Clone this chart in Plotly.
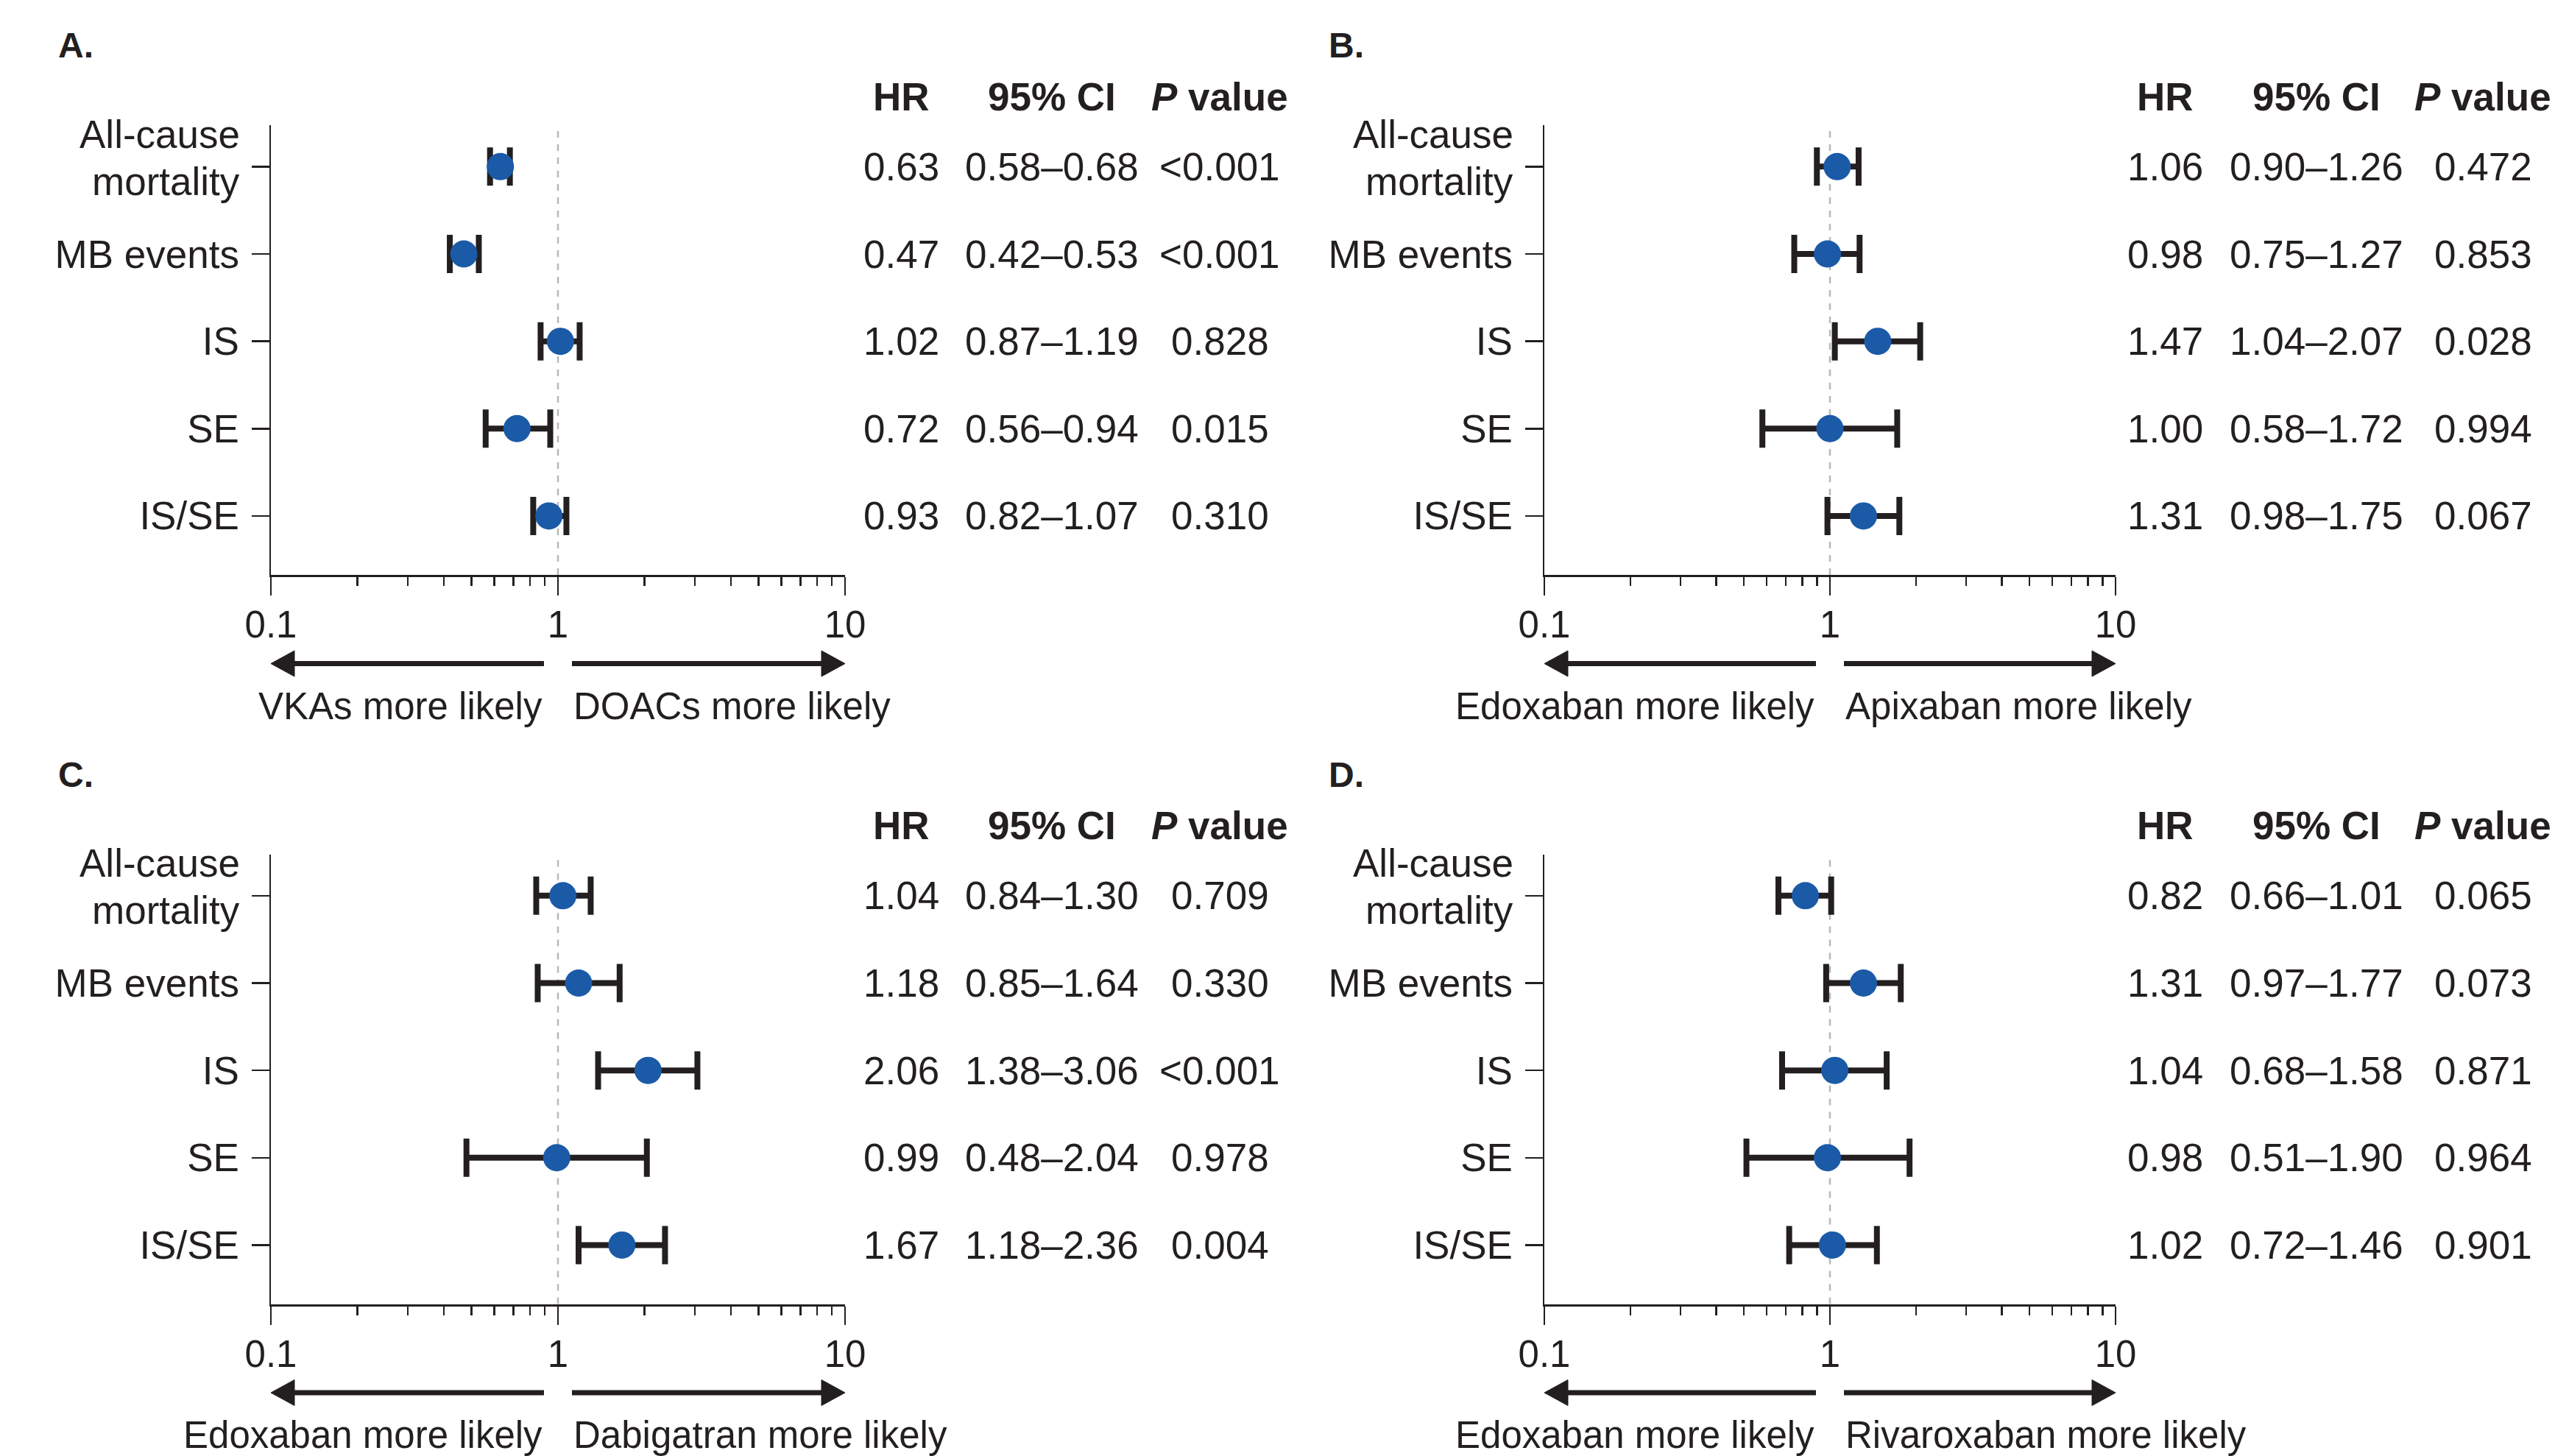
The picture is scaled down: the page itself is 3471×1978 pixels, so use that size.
import plotly.graph_objects as go

W, H = 3471, 1978

categories = ["All-cause mortality", "MB events", "IS", "SE", "IS/SE"]
category_ticktext = ["", "MB events", "IS", "SE", "IS/SE"]
first_label_lines = ["All-cause", "mortality"]

panel_letters = ["A.", "B.", "C.", "D."]
left_labels = ["VKAs more likely", "Edoxaban more likely",
               "Edoxaban more likely", "Edoxaban more likely"]
right_labels = ["DOACs more likely", "Apixaban more likely",
                "Dabigatran more likely", "Rivaroxaban more likely"]

hr_A = [0.63, 0.47, 1.02, 0.72, 0.93]
lo_A = [0.58, 0.42, 0.87, 0.56, 0.82]
hi_A = [0.68, 0.53, 1.19, 0.94, 1.07]
p_A = ["<0.001", "<0.001", "0.828", "0.015", "0.310"]

hr_B = [1.06, 0.98, 1.47, 1.00, 1.31]
lo_B = [0.90, 0.75, 1.04, 0.58, 0.98]
hi_B = [1.26, 1.27, 2.07, 1.72, 1.75]
p_B = ["0.472", "0.853", "0.028", "0.994", "0.067"]

hr_C = [1.04, 1.18, 2.06, 0.99, 1.67]
lo_C = [0.84, 0.85, 1.38, 0.48, 1.18]
hi_C = [1.30, 1.64, 3.06, 2.04, 2.36]
p_C = ["0.709", "0.330", "<0.001", "0.978", "0.004"]

hr_D = [0.82, 1.31, 1.04, 0.98, 1.02]
lo_D = [0.66, 0.97, 0.68, 0.51, 0.72]
hi_D = [1.01, 1.77, 1.58, 1.90, 1.46]
p_D = ["0.065", "0.073", "0.871", "0.964", "0.901"]

x_tickvals = [0.1, 1, 10]
x_ticktext = ["0.1", "1", "10"]
x_minor = [0.2, 0.3, 0.4, 0.5, 0.6, 0.7, 0.8, 0.9, 2, 3, 4, 5, 6, 7, 8, 9]
headers = ["<b>HR</b>", "<b>95% CI</b>", "<b><i>P</i> value</b>"]

panels = [
    (hr_A, lo_A, hi_A, p_A),
    (hr_B, lo_B, hi_B, p_B),
    (hr_C, lo_C, hi_C, p_C),
    (hr_D, lo_D, hi_D, p_D),
]

FONT = "Liberation Sans, Arial, Helvetica, sans-serif"
INK = "#231f20"
BLUE = "#1b5aa7"
FS_TICK = 51
FS_CAT = 53
FS_TAB = 53
FS_HEAD = 53
FS_ARROW = 51

# layout geometry (pixels)
xdoms_px = [(368, 1148), (2098, 2874), (368, 1148), (2098, 2874)]
ydoms_px = [(170, 781), (170, 781), (1160.5, 1771.5), (1160.5, 1771.5)]
table_cols = [(1224, 1429, 1657), (2941, 3147, 3373),
              (1224, 1429, 1657), (2941, 3147, 3373)]
header_y = [131, 131, 1121.5, 1121.5]
letter_pos = [(77, 62), (1803, 62), (77, 1052.5), (1803, 1052.5)]
arrow_y = [901.5, 901.5, 1892, 1892]
label_y = [959, 959, 1949.5, 1949.5]

fig = go.Figure()
shapes = []
annotations = []
layout_axes = {}

for i, (hr, lo, hi, pv) in enumerate(panels):
    n = i + 1
    xa = "x" if n == 1 else f"x{n}"
    ya = "y" if n == 1 else f"y{n}"
    xkey = "xaxis" if n == 1 else f"xaxis{n}"
    ykey = "yaxis" if n == 1 else f"yaxis{n}"

    fig.add_trace(go.Scatter(
        x=hr, y=categories, mode="markers",
        marker=dict(color=BLUE, size=37, line=dict(width=0)),
        error_x=dict(type="data", symmetric=False,
                     array=[h - m for h, m in zip(hi, hr)],
                     arrayminus=[m - l for m, l in zip(hr, lo)],
                     color=INK, thickness=8, width=26),
        xaxis=xa, yaxis=ya, showlegend=False, hoverinfo="skip"))

    x0p, x1p = xdoms_px[i]
    y0p, y1p = ydoms_px[i]
    layout_axes[xkey] = dict(
        type="log", range=[-1, 1], domain=[x0p / W, x1p / W],
        anchor=ya, showgrid=False, zeroline=False, automargin=False,
        showline=True, linecolor=INK, linewidth=3,
        tickmode="array", tickvals=x_tickvals, ticktext=x_ticktext,
        ticks="outside", ticklen=25, tickwidth=2.5, tickcolor=INK,
        ticklabelstandoff=-4,
        minor=dict(tickmode="array", tickvals=x_minor, ticks="outside",
                   ticklen=12, tickwidth=2.5, tickcolor=INK, showgrid=False),
        tickfont=dict(family=FONT, size=FS_TICK, color=INK),
        fixedrange=True)
    layout_axes[ykey] = dict(
        domain=[1 - y1p / H, 1 - y0p / H], anchor=xa, automargin=False,
        type="category", categoryorder="array", categoryarray=categories,
        tickmode="array", tickvals=categories, ticktext=category_ticktext,
        range=[4.675, -0.475], showgrid=False, zeroline=False,
        showline=True, linecolor=INK, linewidth=2.5,
        ticks="outside", ticklen=24, tickwidth=2.5, tickcolor=INK,
        ticklabelstandoff=6,
        tickfont=dict(family=FONT, size=FS_CAT, color=INK),
        fixedrange=True)

    # two-line label of the first category, with the original tight leading
    for txt, shift in zip(first_label_lines, (44, -20)):
        annotations.append(dict(text=txt, xref="paper", yref=ya,
                                x=(x0p - 40) / W, y=categories[0], yshift=shift,
                                xanchor="right", yanchor="middle",
                                showarrow=False,
                                font=dict(family=FONT, size=FS_CAT, color=INK)))

    # reference line at HR = 1
    shapes.append(dict(type="line", xref=xa, yref=f"{ya} domain",
                       x0=1, x1=1, y0=0, y1=1, layer="below",
                       line=dict(color="#b9b9b9", width=2.5, dash="dash")))

    # direction arrows
    cx = (x0p + x1p) / 2
    gap = 19
    ay = 1 - arrow_y[i] / H
    head_len = 32 / W
    head_half = 17.5 / H
    L = x0p / W
    R = x1p / W
    shapes.append(dict(type="line", xref="paper", yref="paper",
                       x0=(cx - gap) / W, x1=L + head_len * 0.8, y0=ay, y1=ay,
                       line=dict(color=INK, width=7)))
    shapes.append(dict(type="path", xref="paper", yref="paper",
                       path=f"M {L} {ay} L {L + head_len} {ay + head_half} "
                            f"L {L + head_len} {ay - head_half} Z",
                       fillcolor=INK, line=dict(color=INK, width=1)))
    shapes.append(dict(type="line", xref="paper", yref="paper",
                       x0=(cx + gap) / W, x1=R - head_len * 0.8, y0=ay, y1=ay,
                       line=dict(color=INK, width=7)))
    shapes.append(dict(type="path", xref="paper", yref="paper",
                       path=f"M {R} {ay} L {R - head_len} {ay + head_half} "
                            f"L {R - head_len} {ay - head_half} Z",
                       fillcolor=INK, line=dict(color=INK, width=1)))

    ly = 1 - label_y[i] / H
    annotations.append(dict(text=left_labels[i], xref="paper", yref="paper",
                            x=(cx - gap) / W, y=ly, xanchor="right",
                            yanchor="middle", showarrow=False,
                            font=dict(family=FONT, size=FS_ARROW, color=INK)))
    annotations.append(dict(text=right_labels[i], xref="paper", yref="paper",
                            x=(cx + gap) / W, y=ly, xanchor="left",
                            yanchor="middle", showarrow=False,
                            font=dict(family=FONT, size=FS_ARROW, color=INK)))

    # panel letter
    lx, lyp = letter_pos[i]
    annotations.append(dict(text=f"<b>{panel_letters[i]}</b>", xref="paper",
                            yref="paper", x=lx / W, y=1 - lyp / H,
                            xanchor="left", yanchor="middle", showarrow=False,
                            font=dict(family=FONT, size=48, color=INK)))

    # table
    cols = table_cols[i]
    for c, htxt in zip(cols, headers):
        annotations.append(dict(text=htxt, xref="paper", yref="paper",
                                x=c / W, y=1 - header_y[i] / H,
                                xanchor="center", yanchor="middle",
                                showarrow=False,
                                font=dict(family=FONT, size=FS_HEAD, color=INK)))
    for cat, h, l, u, p in zip(categories, hr, lo, hi, pv):
        vals = [f"{h:.2f}", f"{l:.2f}\u2013{u:.2f}", p]
        for c, t in zip(cols, vals):
            annotations.append(dict(text=t, xref="paper", yref=ya,
                                    x=c / W, y=cat, xanchor="center",
                                    yanchor="middle", showarrow=False,
                                    font=dict(family=FONT, size=FS_TAB, color=INK)))

fig.update_layout(
    width=W, height=H,
    margin=dict(l=0, r=0, t=0, b=0, pad=0, autoexpand=False),
    paper_bgcolor="white", plot_bgcolor="white",
    shapes=shapes, annotations=annotations,
    font=dict(family=FONT, size=FS_TAB, color=INK),
    **layout_axes)

fig.write_html(
    "out.html",
    config={"displayModeBar": False, "staticPlot": True},
    post_script="document.body.style.margin='0px';"
                "document.body.style.overflow='hidden';")
